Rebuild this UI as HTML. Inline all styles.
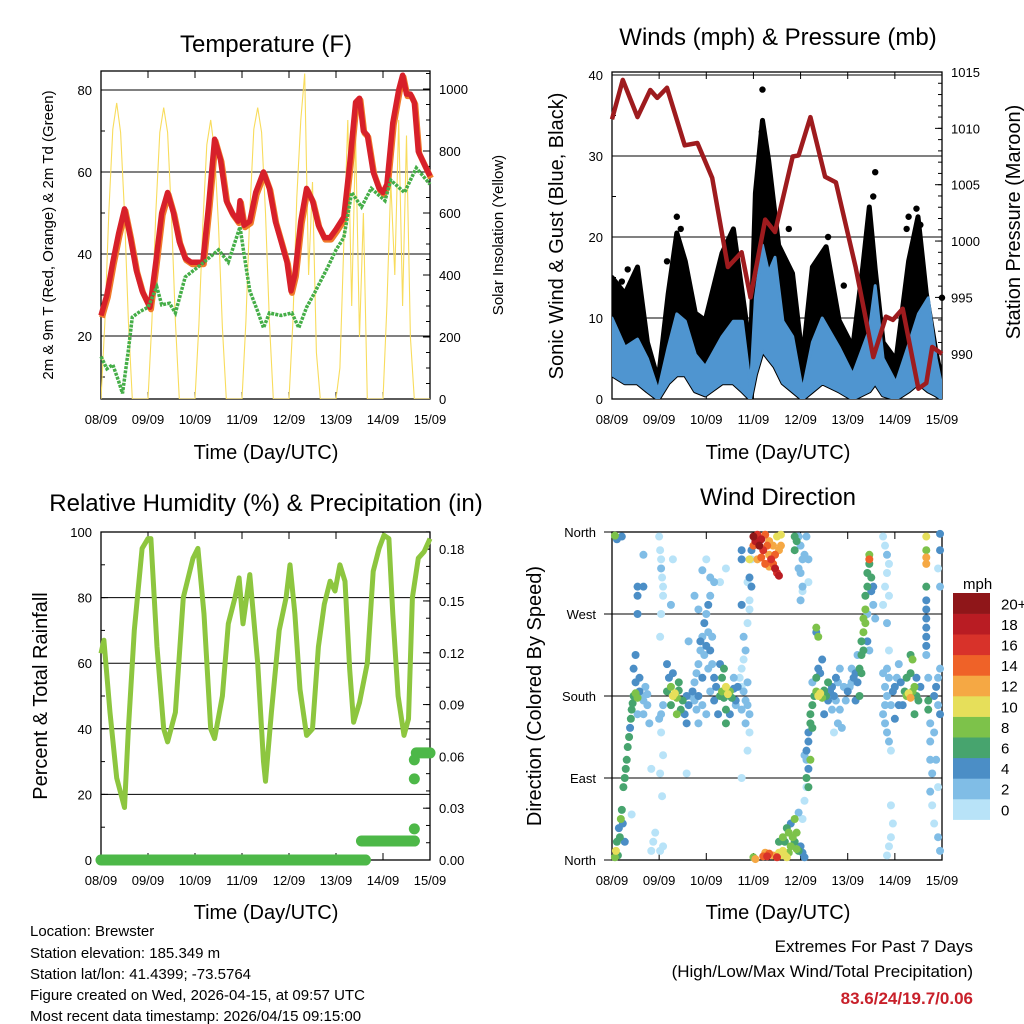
<!DOCTYPE html>
<html><head><meta charset="utf-8"><title>Station Meteogram</title>
<style>
html,body{margin:0;padding:0;background:#fff;}
svg{display:block;font-family:"Liberation Sans",Arial,sans-serif;}
</style></head>
<body>
<svg id="main" width="1024" height="1024" viewBox="0 0 1024 1024" xmlns="http://www.w3.org/2000/svg">
<g id="static" fill="#000">
<text x="266" y="52" font-size="24" text-anchor="middle">Temperature (F)</text>
<text x="778" y="45" font-size="24" text-anchor="middle">Winds (mph) &amp; Pressure (mb)</text>
<text x="266" y="511" font-size="24" text-anchor="middle">Relative Humidity (%) &amp; Precipitation (in)</text>
<text x="778" y="505" font-size="24" text-anchor="middle">Wind Direction</text>
<text x="266" y="459" font-size="20" text-anchor="middle">Time (Day/UTC)</text>
<text x="778" y="459" font-size="20" text-anchor="middle">Time (Day/UTC)</text>
<text x="266" y="919" font-size="20" text-anchor="middle">Time (Day/UTC)</text>
<text x="778" y="919" font-size="20" text-anchor="middle">Time (Day/UTC)</text>
<text transform="translate(53,235) rotate(-90)" font-size="15" text-anchor="middle">2m &amp; 9m T (Red, Orange) &amp; 2m Td (Green)</text>
<text transform="translate(503,235) rotate(-90)" font-size="15" text-anchor="middle">Solar Insolation (Yellow)</text>
<text transform="translate(563,236) rotate(-90)" font-size="20" text-anchor="middle">Sonic Wind &amp; Gust (Blue, Black)</text>
<text transform="translate(1020,222) rotate(-90)" font-size="20" text-anchor="middle">Station Pressure (Maroon)</text>
<text transform="translate(47,696) rotate(-90)" font-size="20" text-anchor="middle">Percent &amp; Total Rainfall</text>
<text transform="translate(541,696) rotate(-90)" font-size="20" text-anchor="middle">Direction (Colored By Speed)</text>
<g font-size="15">
<text x="30" y="936">Location: Brewster</text>
<text x="30" y="958">Station elevation: 185.349 m</text>
<text x="30" y="979">Station lat/lon: 41.4399; -73.5764</text>
<text x="30" y="1000">Figure created on Wed, 2026-04-15, at 09:57 UTC</text>
<text x="30" y="1021">Most recent data timestamp: 2026/04/15 09:15:00</text>
</g>
<g font-size="17" text-anchor="end">
<text x="973" y="952">Extremes For Past 7 Days</text>
<text x="973" y="977">(High/Low/Max Wind/Total Precipitation)</text>
<text x="973" y="1004" fill="#c8202a" font-weight="bold">83.6/24/19.7/0.06</text>
</g>
<text x="963" y="589" font-size="15">mph</text>
</g>
</svg>
<script>
// ---------- DATA ----------
const dayLabels = ["08/09","09/09","10/09","11/09","12/09","13/09","14/09","15/09"];
const tempTicks = [20,40,60,80];
const solarTicks = [0,200,400,600,800,1000];
const windTicks = [0,10,20,30,40];
const pressTicks = [990,995,1000,1005,1010,1015];
const rhTicks = [0,20,40,60,80,100];
const precipTicks = ["0.00","0.03","0.06","0.09","0.12","0.15","0.18"];
const dirTicks = ["North","East","South","West","North"];
const dirTickVals = [0,90,180,270,360];
const speedLabels = ["0","2","4","6","8","10","12","14","16","18","20+"];
const speedColors = ["#b8e3f8","#80bde6","#4b8ec6","#47a46e","#7dc24a","#e6df5a","#f5a844","#ef6228","#d8322a","#b91c23","#8f1619"];

const tempT = [0,3,6,9,12,15,18,21,25,28,31,34,37,40,43,46,49,52,55,58,61,64,67,70,71,73,76,79,83,86,89,92,95,97,99,102,105,108,111,114,117,120,124,127,130,132,134,136,139,142,144,146,149,152,154,156,158,160,162,165,168];
const tempV = [25,30,38,45,51,44,36,31,27,38,50,55,50,43,39,38,38,38,52,68,63,53,50,48,53,47,48,55,60,56,48,43,38,31,35,48,56,53,47,44,44,46,49,62,77,78,70,69,60,56,55,57,72,80,83.6,79,79,77,65,62,59];
const dewT = [0,3,6,9,11,14,16,20,24,28.5,31,35,38,43,50,55,60,65,71,73,76,80,83,86,92,97.5,101,105,109,116,120,124,128,133,138,145,148,155,161,168];
const dewV = [15,12,13,9,6,16.6,24.6,26,27,32,27.6,28,25.6,34.4,37,39,41,38,46.6,40,31,26,22,25.6,25,25.6,22,27,30.5,37,41,44,55,51.5,56,53,58,55,61,57];
const solarT = [0,2,4,6,8,10,12,14,16,18,20,22,24,26,28,30,32,34,36,38,40,42,44,46,48,50,52,54,56,58,60,62,64,66,68,70,72,74,76,78,80,82,84,86,88,90,92,94,96,98,100,102,104,106,108,110,112,114,116,118,120,122,124,126,128,130,132,134,136,138,140,142,144,146,148,150,152,154,156,158,160,162,164,166,168];
const solarV = [0,250,600,870,955,860,600,250,0,0,0,0,0,250,600,860,940,860,590,250,0,0,0,0,0,240,560,820,900,800,560,230,0,0,0,0,0,250,600,870,940,860,600,250,0,0,0,0,0,250,650,900,1050,400,700,150,0,0,0,0,0,100,500,900,300,850,200,600,0,0,0,0,0,300,700,400,900,300,850,200,0,0,0,0,0];

const gustT = [0,6.6,13,18,23.5,28.6,33,37.3,42.4,47.5,56,61.8,66.4,70.5,73,76.6,79.7,84.8,91.9,97,102,109,115.6,122.6,127.7,131,134,138,144.6,151,155.8,160,165,168];
const gustV = [15,13,16.3,7,2.3,13,20.5,17,10.6,9.7,18,21,13,5.7,25.4,34.4,29.5,19,15.5,4.8,16.3,18.8,9.7,6.4,16.3,23.7,16,7,4.8,17,22.5,13,5.7,2.3];
const windT = [0,6.6,13,18,23.5,28.6,33,37.3,42.4,47.5,56,61.8,66.4,70.5,73,76.6,79.7,83,87,92,97,102,107,115.6,122.6,131,134,138,144.6,151,156,161,165,168];
const windHi = [10,6.4,7.4,5,1,6.4,10.5,9.6,5.5,4,7.7,9.6,9.6,1.5,12.5,19,15.6,17.5,9.6,7.7,1,7,10,6.4,3,8.5,14,5,2,6.7,10.5,12.5,5,1.5];
const windLo = [3,2,2,1,0,2,3,3,1,0.5,2,2,1,0,3,6,5,4,2,1,0,1,2,1,0,1,2,0.5,0,1,2,1,0.5,0];
const gustDotT = [76.6,76.3,77,75.8,78,80,134,133,151,150,155,157,118,33,35,28,8,5,110,168,90,60];
const gustDotV = [38.2,33,31,29,27.5,25,28,25,22.5,21,23.5,21.5,14,22.5,21,17,16,14.5,20,12.5,21,19];
const pressT = [0,5.5,13,19.5,23,28,37,43.5,51,59,66,70.5,78,83,92,95,101,108.5,114,124,133,139.5,143,148,156,160,163,168];
const pressV = [1010.8,1014.3,1011,1013.4,1012.7,1013.6,1008.5,1008.7,1005.6,997.7,999,995,1001.9,1000.8,1007.5,1007.6,1011,1005.7,1005.2,997.7,989.7,993.3,993,994,986.9,987.4,990.6,990];

const rhT = [0,1.5,4.6,8,12,14,17,21,24,25.5,28.6,32,34,38,42,47,49.5,52.6,56,58,62,65,68.4,70.5,72.5,76,80,83,84,87,91,94.5,96.5,99,101.6,105,108,111,114,117,119.5,122,124.6,127,129,132,136,139,142,144.5,147,149,151.7,154.7,157,159,162,165,168];
const rhV = [63,67,45,25,16,40,70,95,98,98,65,40,36,45,80,92,95,75,40,37,50,72,80,86,72,87,60,30,24,45,70,80,90,75,52,38,40,65,78,85,82,90,85,58,42,48,60,88,95,99,98,75,50,38,43,80,92,94,98];
const precipT = [0,135,133,160,160,160,160,161,168];
const precipV = [0,0,0.011,0.011,0.018,0.047,0.058,0.062,0.062];

const dirPts = [
[1.5,3,8],[2,10,10],[2.5,20,6],[3,5,6],[3.5,35,4],[4,25,6],[4.5,45,8],[5,55,6],[5.5,40,4],[5.8,80,6],[6.5,90,6],[7,100,6],[7.5,110,6],[8,124,6],[8.7,135,6],[9.2,145,4],[9.6,155,6],[10,165,6],[10.5,172,6],[6.5,20,4],[1.5,356,8],[2.5,352,4],[5,355,4],
[11,180,6],[12,183,8],[13,178,8],[14,185,4],[15,180,2],[16,175,2],[17,190,2],[18,182,2],[12,195,4],[14,200,4],[13,160,2],[16,160,2],[18,170,2],[11,210,4],[12,225,4],[13,270,4],[13,290,4],[13,300,4],[19,150,2],
[24,355,0],[24.5,340,0],[25,330,0],[25,320,2],[25.5,310,0],[26,300,0],[26,290,0],[25,270,0],[24.5,245,0],[25,140,0],[26,115,0],[24.5,95,0],[25.5,70,0],[24.5,10,0],[26,15,0],[25,160,2],[26,170,2],[24,155,2],
[28,185,6],[30,190,8],[31,180,10],[32,183,10],[33,178,8],[34,186,6],[36,175,6],[38,180,4],[29,200,4],[31,205,4],[34,195,6],[35,165,6],[37,160,4],[38,150,4],[39,170,4],[40,180,2],[30,170,6],[28,215,4],[33,160,8],
[41,185,4],[42,195,2],[43,205,2],[44,215,2],[45,230,2],[46,245,2],[47,260,4],[48,270,2],[49,250,2],[50,230,4],[51,215,2],[52,200,4],[44,180,4],[46,170,2],[48,160,2],[50,185,2],[52,175,4],[43,165,2],[45,240,4],[47,225,2],[49,210,2],[53,190,4],[51,245,2],[49,280,4],[50,290,2],[48,235,4],[46,200,4],[42,175,2],[44,150,2],
[55,180,6],[56,185,8],[57,178,6],[58,190,10],[59,182,10],[60,185,8],[61,178,6],[62,188,4],[63,175,4],[64,190,4],[56,200,6],[57,210,6],[58,165,6],[60,160,4],[62,200,2],[63,170,2],[55,215,4],[54,160,4],[58,150,6],
[65,200,0],[66,190,0],[67,185,2],[68,175,2],[69,170,2],[70,160,2],[68,150,2],[70,140,0],[66,210,0],[67,220,0],[69,195,2],[66,165,2],[68,230,2],[67,245,2],[69,260,0],[70,275,0],[70,285,0],[69,305,0],[71,330,0],[69,120,0],[66,90,0],
[50,310,2],[48,330,0],[46,318,2],[52,305,2],[42,290,2],[44,275,2],
[16,300,4],[16,335,2],[10,50,0],[20,100,0],[38,95,0],[31,330,0],[39,240,2],[30,280,2],[66,330,4],[66,340,4],[66,280,4],[58,320,0],[55,305,0],[20,10,0],[21,20,0],[22,30,0],
[72,355,20],[73,350,18],[74,357,16],[75,345,20],[76,352,18],[77,340,16],[78,357,14],[79,345,14],[80,335,12],[81,330,16],[82,325,14],[83,320,18],[84,315,16],[85,312,18],[76,332,14],[78,325,14],[80,350,12],[82,345,12],[84,355,10],[86,357,10],[85,340,12],[83,335,14],[74,330,12],[72,345,14],[80,322,12],[86,345,12],[70,330,10],[71,340,4],[70,310,4],[71,300,4],
[93,355,6],[94,350,6],[93,340,6],[95,355,2],[96,345,2],[97,330,2],[96,315,2],[97,300,2],[95,320,2],[98,335,2],[96,285,2],[97,295,0],[99,355,2],[100,330,2],[100,305,0],
[72,3,8],[73,1,12],[77,4,14],[78,8,12],[79,4,16],[80,7,14],[82,5,12],[84,3,16],[85,8,10],[86,5,10],[87,10,10],[88,5,10],[89,3,10],[90,8,8],[91,15,8],[92,25,8],[93,20,6],[94,30,8],[95,10,6],[96,15,4],[97,8,4],[98,3,4],[88,20,6],[89,35,6],[91,40,4],[93,45,8],[95,52,2],[97,45,0],[98,65,0],[99,80,0],[99,110,2],[87,25,8],[85,20,6],[94,12,8],[90,30,8],
[99,120,4],[100,130,4],[100,140,4],[101,150,6],[101,160,6],[102,170,6],[101,110,8],[100,100,4],[99,90,6],[100,80,6],[98,115,2],[102,145,6],
[103,180,6],[104,185,8],[105,180,10],[106,183,10],[107,178,8],[108,186,6],[109,180,6],[110,175,4],[111,185,4],[112,190,4],[113,180,4],[114,175,2],[115,195,2],[116,165,2],[104,200,6],[106,205,4],[108,160,4],[110,195,6],[112,165,2],[114,200,4],[102,195,2],[105,210,4],[107,220,4],[115,150,2],[113,140,0],[117,145,2],[119,175,2],[118,190,2],[116,210,2],[104,250,4],[104,255,8],[105,245,8],
[120,185,4],[121,190,2],[122,195,2],[123,200,4],[124,205,4],[125,195,4],[126,210,6],[127,225,6],[127,240,6],[128,250,8],[128,265,8],[129,275,8],[129,290,6],[130,300,6],[130,315,6],[131,325,6],[131,330,14],[131,335,8],[132,310,6],[132,295,4],[133,280,2],[134,265,2],[133,300,4],[130,270,2],[129,260,8],[128,230,6],[126,180,6],[124,175,4],[122,210,2],[125,225,2],[127,205,6],[130,240,4],[131,230,2],
[138,355,0],[139,345,0],[140,335,2],[141,325,0],[140,315,0],[139,300,0],[141,290,0],[138,280,0],[140,260,2],[141,230,0],[140,180,2],[139,170,2],[138,160,2],[139,150,2],[140,140,2],[141,130,2],[142,120,0],[139,190,2],[141,200,2],[140,210,2],[138,205,2],[142,170,2],[143,185,4],[144,190,4],[145,200,2],[142,60,0],[143,40,0],[142,25,0],[141,15,0],[140,5,0],[144,155,4],[146,170,4],
[149,185,6],[150,180,8],[151,183,10],[152,178,12],[153,185,8],[154,190,8],[155,180,6],[156,175,6],[150,200,6],[152,205,6],[154,160,6],[148,170,4],[152,225,6],[153,220,8],[155,200,4],[157,190,4],[147,195,4],[146,215,2],
[160,355,10],[160,340,8],[160,332,12],[160,325,12],[160,300,6],[160,285,4],[160,275,4],[160,265,4],[160,255,4],[160,245,4],[160,235,4],[160,225,2],[161,200,2],[161,175,6],[161,165,6],[162,150,2],[162,130,2],[162,110,2],[163,95,2],[162,75,2],[163,60,0],[164,140,2],[164,180,4],[165,190,4],[166,200,2],[166,170,2],[167,160,4],[167,210,2],[167,300,2],[167,340,4],[167,358,4],[166,320,0],[165,110,2],[166,80,0],[166,25,2],[167,10,2],[164,40,0]
];

// ---------- HELPERS ----------
const NS = "http://www.w3.org/2000/svg";
const svg = document.getElementById("main");
function mk(tag, attrs, parent) {
  const e = document.createElementNS(NS, tag);
  for (const k in attrs) e.setAttribute(k, attrs[k]);
  (parent || svg).appendChild(e);
  return e;
}
function pathOf(ts, vs, fx, fy) {
  return ts.map((t, i) => (i ? "L" : "M") + fx(t).toFixed(1) + "," + fy(vs[i]).toFixed(1)).join("");
}
const H = 168;
function xs(x0, w) { return t => x0 + t / H * w; }

function frame(name, x0, y0, x1, y1) {
  const g = mk("g", {});
  
  
  const r = mk("rect", {x: x0, y: y0, width: x1 - x0, height: y1 - y0, fill: "none", stroke: "#000", "stroke-width": 1.3}, g);
  
  
  dayLabels.forEach((lab, i) => {
    const x = x0 + i * (x1 - x0) / 7;
    mk("line", {x1: x, x2: x, y1: y1, y2: y1 - 7, stroke: "#000", "stroke-width": 1}, g);
    mk("line", {x1: x, x2: x, y1: y0, y2: y0 + 7, stroke: "#000", "stroke-width": 1}, g);
    const t = mk("text", {x: x, y: y1 + 25, "font-size": 13, "text-anchor": "middle"}, g);
    t.textContent = lab;
    
    
  });
  return g;
}
function yAxis(g, name, ticks, labels, fy, xEdge, side, grid, x0, x1, minorStep, minorFrom, minorTo) {
  for (let v = minorFrom; v <= minorTo + 1e-9; v += minorStep) {
    const y = fy(v);
    mk("line", {x1: xEdge, x2: xEdge + (side === "left" ? 4 : -4), y1: y, y2: y, stroke: "#000", "stroke-width": 1}, g);
  }
  ticks.forEach((v, i) => {
    const y = fy(v);
    if (grid) mk("line", {x1: x0, x2: x1, y1: y, y2: y, stroke: "#000", "stroke-width": 1}, g);
    mk("line", {x1: xEdge, x2: xEdge + (side === "left" ? 7 : -7), y1: y, y2: y, stroke: "#000", "stroke-width": 1}, g);
    const t = mk("text", {x: side === "left" ? xEdge - 9 : xEdge + 9, y: y + 5, "font-size": 13, "text-anchor": side === "left" ? "end" : "start"}, g);
    t.textContent = labels[i];
    
    
  });
}

// ---------- PANEL 1: TEMPERATURE ----------
(function () {
  const x0 = 101, x1 = 430, y0 = 71, y1 = 399;
  const fx = xs(x0, x1 - x0);
  const fy = v => 418 - v * 4.1;
  const fs = v => 399 - v * 0.31;
  const g = frame("temperature", x0, y0, x1, y1);
  yAxis(g, "temp-y", tempTicks, tempTicks.map(String), fy, x0, "left", true, x0, x1, 10, 10, 80);
  yAxis(g, "solar-y", solarTicks, solarTicks.map(String), fs, x1, "right", false, x0, x1, 50, 0, 1050);
  const cp = mk("clipPath", {id: "c1"}); mk("rect", {x: x0, y: y0, width: x1 - x0, height: y1 - y0}, cp);
  const s = mk("path", {d: pathOf(solarT, solarV, fx, fs), fill: "none", stroke: "#f8dc5c", "stroke-width": 1.1, "clip-path": "url(#c1)"});
  
  
  const o = mk("path", {d: pathOf(tempT, tempV, fx, fy), fill: "none", stroke: "#f07a2a", "stroke-width": 6, "stroke-linejoin": "round", transform: "translate(1,2)"});
  
  
  const r = mk("path", {d: pathOf(tempT, tempV, fx, fy), fill: "none", stroke: "#d7202a", "stroke-width": 5.5, "stroke-linejoin": "round"});
  
  
  const d = mk("path", {d: pathOf(dewT, dewV, fx, fy), fill: "none", stroke: "#45ae48", "stroke-width": 3.5, "stroke-dasharray": "3 1.2"});
  
  
})();

// ---------- PANEL 2: WINDS ----------
(function () {
  const x0 = 612, x1 = 942, y0 = 72, y1 = 399;
  const fx = xs(x0, x1 - x0);
  const fy = v => 399 - v * 8.1;
  const fp = p => 72 + (1015 - p) * 11.27;
  const g = frame("winds", x0, y0, x1, y1);
  yAxis(g, "wind-y", windTicks, windTicks.map(String), fy, x0, "left", true, x0, x1, 5, 0, 40);
  yAxis(g, "pressure-y", pressTicks, pressTicks.map(String), fp, x1, "right", false, x0, x1, 1, 986, 1015);
  const cp = mk("clipPath", {id: "c2"}); mk("rect", {x: x0, y: y0, width: x1 - x0, height: y1 - y0}, cp);
  const top = pathOf(gustT, gustV, fx, fy);
  const lo = windT.slice().reverse().map((t, i) => "L" + fx(t).toFixed(1) + "," + fy(windLo[windLo.length - 1 - i]).toFixed(1)).join("");
  const gb = mk("path", {d: top + lo + "Z", fill: "#000", stroke: "#000", "stroke-width": 5, "stroke-linejoin": "round", "clip-path": "url(#c2)"});
  
  
  gustDotT.forEach((t, i) => {
    const c = mk("circle", {cx: fx(t), cy: fy(gustDotV[i]), r: 3.2, fill: "#000"});
    
    
  });
  const wtop = pathOf(windT, windHi, fx, fy);
  const wlo = windT.slice().reverse().map((t, i) => "L" + fx(t).toFixed(1) + "," + fy(windLo[windLo.length - 1 - i]).toFixed(1)).join("");
  const wb = mk("path", {d: wtop + wlo + "Z", fill: "#4f95d0", stroke: "#4f95d0", "stroke-width": 3, "stroke-linejoin": "round", "clip-path": "url(#c2)"});
  
  
  const p = mk("path", {d: pathOf(pressT, pressV, fx, fp), fill: "none", stroke: "#9e1b1e", "stroke-width": 4.5, "stroke-linejoin": "round"});
  
  
  mk("line", {x1: x0, x2: x1, y1: fy(40), y2: fy(40), stroke: "#000", "stroke-width": 1}, g);
})();

// ---------- PANEL 3: RH & PRECIP ----------
(function () {
  const x0 = 101, x1 = 430, y0 = 532, y1 = 860;
  const fx = xs(x0, x1 - x0);
  const fy = v => 860 - v * 3.28;
  const fpr = v => 860 - v * 1727;
  const g = frame("rh", x0, y0, x1, y1);
  yAxis(g, "rh-y", rhTicks, rhTicks.map(String), fy, x0, "left", true, x0, x1, 10, 0, 100);
  yAxis(g, "precip-y", precipTicks.map(Number), precipTicks, fpr, x1, "right", false, x0, x1, 0.01, 0, 0.19);
  const r = mk("path", {d: pathOf(rhT, rhV, fx, fy), fill: "none", stroke: "#8dc63f", "stroke-width": 5, "stroke-linejoin": "round"});
  
  
  for (let i = 0; i < precipT.length - 1; i++) {
    if (precipV[i] === precipV[i + 1] && precipT[i] !== precipT[i + 1]) {
      const l = mk("line", {x1: fx(precipT[i]), x2: fx(precipT[i + 1]), y1: fpr(precipV[i]), y2: fpr(precipV[i]), stroke: "#4db848", "stroke-width": 11, "stroke-linecap": "round"});
      
      
    } else {
      const c = mk("circle", {cx: fx(precipT[i]), cy: fpr(precipV[i]), r: 5.5, fill: "#4db848"});
      
      
    }
  }
})();

// ---------- PANEL 4: WIND DIRECTION ----------
(function () {
  const x0 = 612, x1 = 942, y0 = 532, y1 = 860;
  const fx = xs(x0, x1 - x0);
  const fy = d => 860 - d * 328 / 360;
  const g = frame("wind-direction", x0, y0, x1, y1);
  dirTickVals.forEach((v, i) => {
    const y = fy(v);
    mk("line", {x1: x0 - 8, x2: x1, y1: y, y2: y, stroke: "#000", "stroke-width": 1}, g);
    const t = mk("text", {x: x0 - 16, y: y + 5, "font-size": 13, "text-anchor": "end"}, g);
    t.textContent = dirTicks[i];
    
    
  });
  const cp = mk("clipPath", {id: "c4"}); mk("rect", {x: x0 - 4, y: y0 - 4, width: x1 - x0 + 8, height: y1 - y0 + 8}, cp);
  const sorted = dirPts.slice().sort((a, b) => a[2] - b[2]);
  sorted.forEach(p => {
    const idx = Math.min(10, Math.floor(p[2] / 2));
    const c = mk("circle", {cx: fx(p[0]), cy: fy(p[1]), r: 4, fill: speedColors[idx], "clip-path": "url(#c4)"});
    
    
  });
  // colorbar
  const cb = mk("g", {});
  
  
  const bx = 953, bw = 37, by = 593, bh = 20.6;
  speedColors.forEach((col, i) => {
    const y = by + (10 - i) * bh;
    const r = mk("rect", {x: bx, y: y, width: bw, height: bh + 0.3, fill: col}, cb);
    
    
    const t = mk("text", {x: 1001, y: y + bh / 2 + 6, "font-size": 15}, cb);
    t.textContent = speedLabels[i];
    
    
  });
})();
</script>
</body></html>
